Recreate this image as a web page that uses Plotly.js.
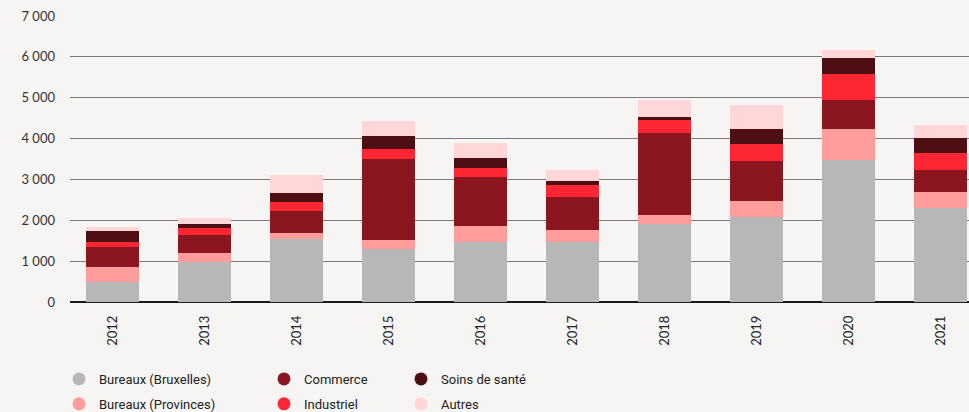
<!DOCTYPE html>
<html><head><meta charset="utf-8">
<script src="https://cdn.plot.ly/plotly-3.0.1.min.js"></script>
<style>html,body{margin:0;padding:0;background:#f6f5f3;}#chart{width:969px;height:412px;}</style>
</head><body><div id="chart"></div>
<script>
const years = ['2012','2013','2014','2015','2016','2017','2018','2019','2020','2021'];
const bureauxBruxelles = [500, 990, 1545, 1300, 1480, 1480, 1920, 2080, 3480, 2310];
const bureauxProvinces = [360, 210, 150, 220, 380, 285, 210, 390, 750, 385];
const commerce = [490, 440, 540, 1980, 1200, 805, 2000, 975, 710, 540];
const industriel = [120, 170, 220, 245, 220, 295, 320, 415, 635, 415];
const soinsSante = [270, 100, 220, 320, 245, 100, 75, 365, 390, 365];
const autres = [100, 150, 440, 365, 365, 270, 415, 585, 195, 320];
const seriesNames = ['Bureaux (Bruxelles)','Bureaux (Provinces)','Commerce','Industriel','Soins de santé','Autres'];
const seriesColors = ['#b7b7b7','#ff9d9c','#8b1620','#ff2633','#4e0f14','#ffd7d8'];
const yTickVals = [0,1000,2000,3000,4000,5000,6000,7000];
const yTickText = ['0','1 000','2 000','3 000','4 000','5 000','6 000','7 000'];

const seriesData = [bureauxBruxelles, bureauxProvinces, commerce, industriel, soinsSante, autres];
const legendIds = ['legend','legend','legend2','legend2','legend3','legend3'];

const traces = [];
seriesData.forEach((vals, i) => {
  traces.push({
    type: 'bar', x: years, y: vals, name: seriesNames[i],
    marker: {color: seriesColors[i], line: {width: 0}},
    showlegend: false, hoverinfo: 'x+y+name'
  });
});
seriesData.forEach((vals, i) => {
  traces.push({
    type: 'scatter', mode: 'markers', x: [null], y: [null], name: seriesNames[i],
    marker: {color: seriesColors[i], size: 13, symbol: 'circle'},
    legend: legendIds[i], legendgroup: 'g' + i, showlegend: true
  });
});

const legendFont = {family: '"Liberation Sans Narrow", "Roboto", sans-serif', size: 13, color: '#222'};
const legBase = {
  orientation: 'v', xref: 'container', yref: 'container', yanchor: 'top', xanchor: 'left',
  y: 1 - 364/412, bgcolor: 'rgba(0,0,0,0)', font: legendFont, traceorder: 'grouped',
  tracegroupgap: 5, itemclick: false
};

const layout = {
  width: 969, height: 412,
  margin: {l: 70, r: 0, t: 16, b: 110, pad: 0, autoexpand: false},
  paper_bgcolor: '#f6f5f3', plot_bgcolor: '#f6f5f3',
  barmode: 'stack', bargap: 0.424,
  font: {family: 'Lato, "Open Sans", sans-serif', size: 13, color: '#333'},
  xaxis: {
    type: 'category', range: [-0.462, 9.31], tickangle: -90, showgrid: false, automargin: false,
    ticks: '', ticklabelstandoff: 10, tickfont: {size: 13, color: '#222'}, fixedrange: true
  },
  yaxis: {
    range: [0, 7000], tickvals: yTickVals, ticktext: yTickText, showgrid: true, automargin: false,
    gridcolor: '#7a7a7a', gridwidth: 1, zeroline: true, zerolinecolor: '#1a1a1a', zerolinewidth: 2,
    ticks: '', ticklabelstandoff: 14, tickfont: {size: 13, color: '#333'}, fixedrange: true
  },
  legend: Object.assign({}, legBase, {x: 59/969}),
  legend2: Object.assign({}, legBase, {x: 264/969}),
  legend3: Object.assign({}, legBase, {x: 401/969}),
  showlegend: true
};

Plotly.newPlot('chart', traces, layout, {displayModeBar: false, staticPlot: true});
</script></body></html>
